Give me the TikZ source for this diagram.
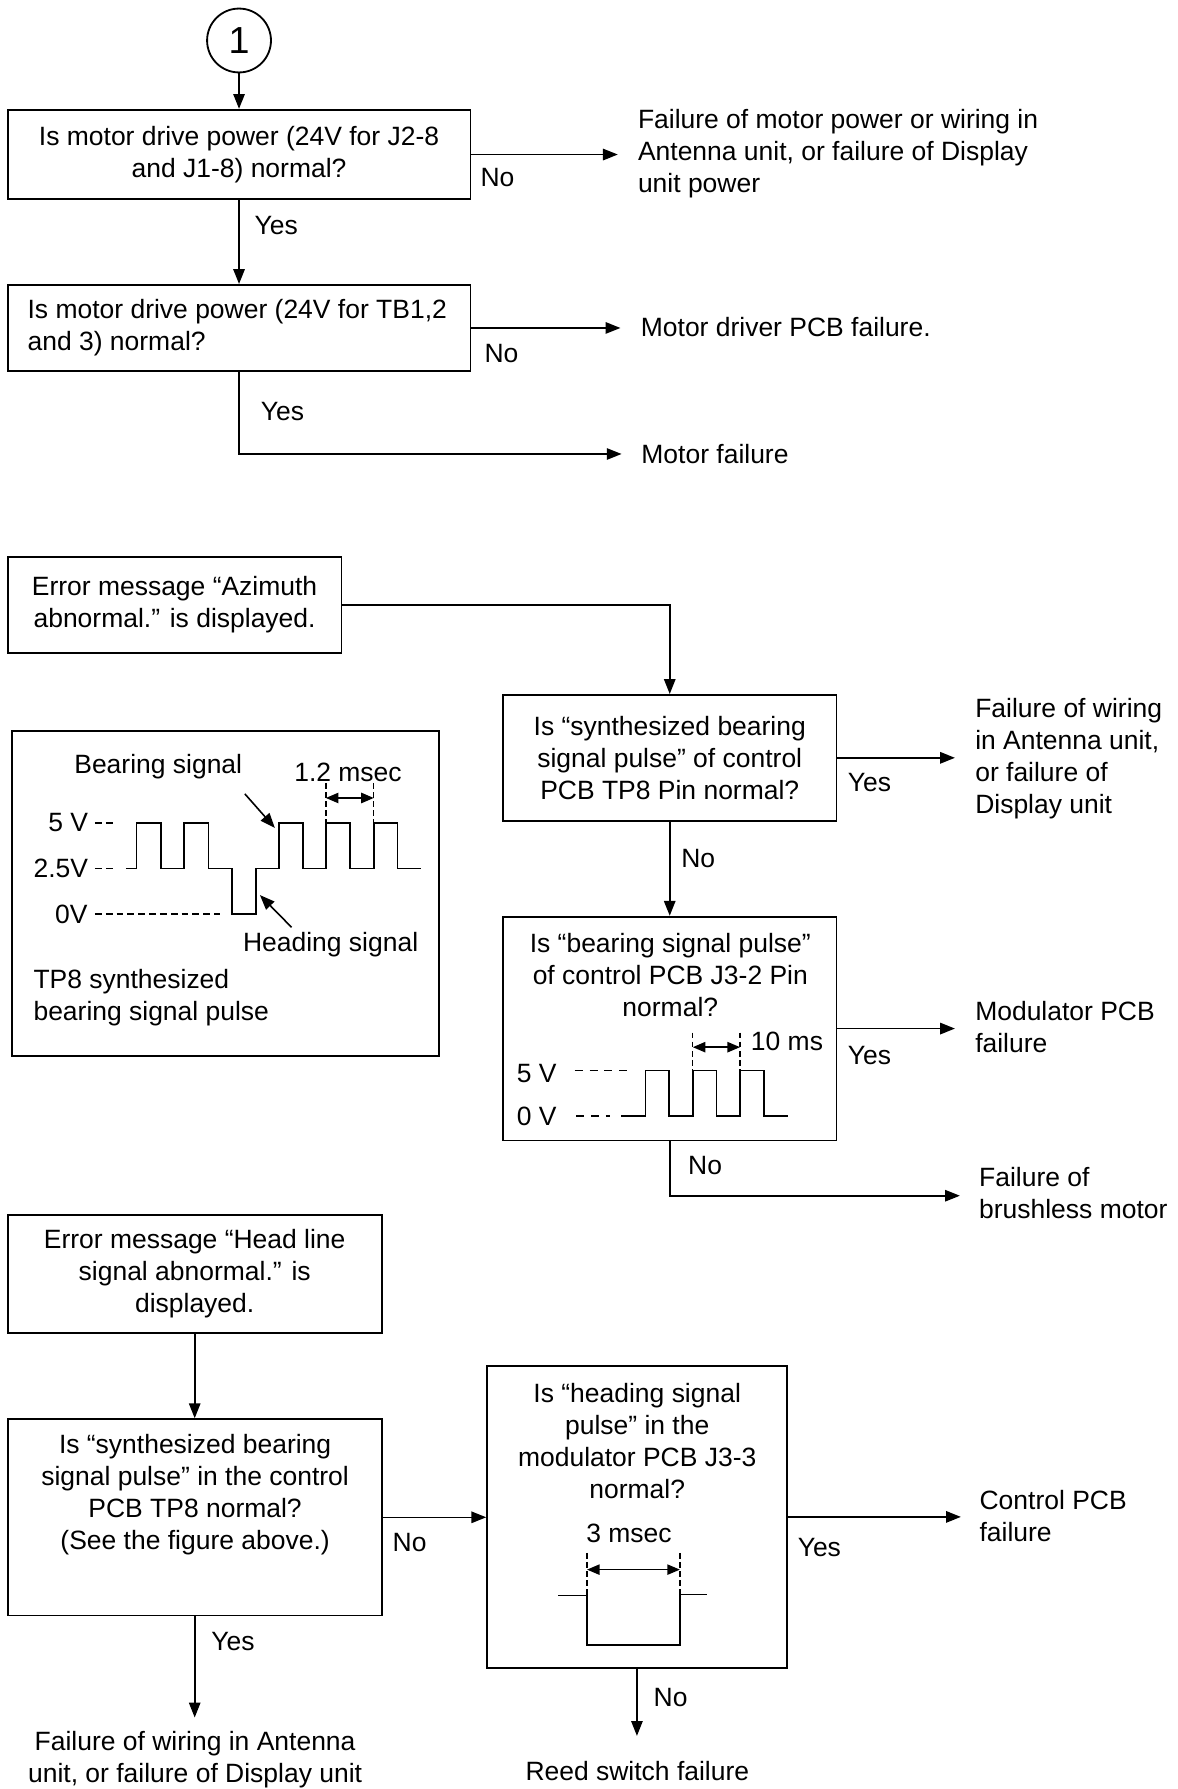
\documentclass[tikz,border=0pt]{standalone}
\usepackage{fontspec}
\setmainfont{Liberation Sans}
\usetikzlibrary{arrows.meta}
\newcommand{\fsz}{\fontsize{23.2}{28}\selectfont}
\begin{document}
\begin{tikzpicture}[x=1pt,y=-1pt,
  box/.style={draw, line width=1.6pt, inner sep=0pt},
  txt/.style={inner sep=0pt, font=\fsz, align=center},
  ltxt/.style={inner sep=0pt, font=\fsz, align=left},
  arr/.style={line width=1.4pt, -{Triangle[length=13pt,width=10pt]}},
  ln/.style={line width=1.4pt},
  wave/.style={line width=1.5pt},
  dsh/.style={line width=1.2pt, dash pattern=on 6pt off 3.5pt},
  wdsh/.style={line width=1.2pt, dash pattern=on 7pt off 6pt},
  vdsh/.style={line width=1.2pt, dash pattern=on 5pt off 3pt},
  dbl/.style={line width=1.4pt, {Triangle[length=11pt,width=9pt]}-{Triangle[length=11pt,width=9pt]}},
  lbl/.style={inner sep=0pt, font=\fsz, anchor=west},
]
\useasboundingbox (0,0) rectangle (1032,1568);

% ---------------- top section ----------------
\node[draw, circle, line width=1.6pt, minimum size=56pt, inner sep=0pt,
      font=\fontsize{33}{36}\selectfont] (c1) at (209.5,35.5) {1};
\node[box, txt, minimum width=405.6pt, minimum height=78.5pt] (b1) at (209.5,135.45)
  {Is motor drive power (24V for J2-8\\and J1-8) normal?};
\node[box, minimum width=405.6pt, minimum height=75.5pt] (b2) at (209.5,287.45) {};
\node[ltxt, anchor=west] (t2) at (24,287.5) {Is motor drive power (24V for TB1,2\\and 3) normal?};

\node[ltxt, anchor=west] (r1) at (559,134.3) {Failure of motor power or wiring in\\Antenna unit, or failure of Display\\unit power};
\node[ltxt, anchor=west] (r2) at (561.5,287) {Motor driver PCB failure.};
\node[ltxt, anchor=west] (r3) at (562,398.3) {Motor failure};
\coordinate (e1) at (541.5,135.8);
\coordinate (e2) at (543.8,287.6);
\coordinate (e3) at (544.8,397.9);

\draw[arr] (c1) -- (b1);
\draw[arr] (b1) -- (b2);
\draw[arr] (b1.east) -- (b1.east -| e1);
\draw[arr] (b2.east) -- (b2.east -| e2);
\draw[arr] (b2.south) |- (e3);

\node[lbl] (n1) at (421,156) {No};
\node[lbl] (y1) at (223,197.8) {Yes};
\node[lbl] (n2) at (424.5,310) {No};
\node[lbl] (y2) at (228.5,360.4) {Yes};

% ---------------- middle section ----------------
\node[box, txt, minimum width=292.7pt, minimum height=83.9pt] (az) at (153,530.35)
  {Error message “Azimuth\\abnormal.” is displayed.};
\node[box, txt, minimum width=292.4pt, minimum height=110.3pt] (s1) at (587,664.2)
  {Is “synthesized bearing\\signal pulse” of control\\PCB TP8 Pin normal?};
\node[box, minimum width=292.4pt, minimum height=196.1pt] (s2) at (587,901.5) {};
\node[txt] (t5) at (587.5,854.8) {Is “bearing signal pulse”\\of control PCB J3-2 Pin\\normal?};

\node[ltxt, anchor=west] (r4) at (854.6,664.7) {Failure of wiring\\in Antenna unit,\\or failure of\\Display unit};
\node[ltxt, anchor=west] (r5) at (854.6,900.5) {Modulator PCB\\failure};
\node[ltxt, anchor=west] (r6) at (858,1046) {Failure of\\brushless motor};
\coordinate (e4) at (837,664.5);
\coordinate (e5) at (837,901.7);
\coordinate (e6) at (841.3,1048);

\draw[arr] (az.east) -| (s1.north);
\draw[arr] (s1) -- (s2);
\draw[arr] (s1.east) -- (s1.east -| e4);
\draw[arr] (s2.east) -- (s2.east -| e5);
\draw[arr] (s2.south) |- (e6);

\node[lbl] (y3) at (743,686) {Yes};
\node[lbl] (n3) at (597,752.7) {No};
\node[lbl] (y4) at (743,924.8) {Yes};
\node[lbl] (n4) at (603,1021.8) {No};

% waveform inside s2
\node[txt, anchor=east] (v5a) at (488,940.9) {5 V};
\node[txt, anchor=east] (v0a) at (488,978.2) {0 V};
\draw[wdsh] (503.7,938.2) -- (555,938.2);
\draw[wdsh] (505,978.2) -- (535,978.2);
\draw[wave] (544.6,978.2) -- (565.8,978.2) -- (565.8,938.2) -- (586.6,938.2) -- (586.6,978.2)
  -- (607.2,978.2) -- (607.2,938.2) -- (628,938.2) -- (628,978.2) -- (648.6,978.2)
  -- (648.6,938.2) -- (669.4,938.2) -- (669.4,978.2) -- (690.6,978.2);
\draw[vdsh] (607.2,905) -- (607.2,938.2);
\draw[vdsh] (648.6,905) -- (648.6,938.2);
\draw[dbl] (607.2,917.8) -- (648.6,917.8);
\node[lbl] (ms10) at (658,912.5) {10 ms};

% TP8 figure box
\node[box, minimum width=374.7pt, minimum height=285.3pt] (tp) at (197.55,783.05) {};
\node[txt] (bs) at (138.7,671.6) {Bearing signal};
\node[txt] (m12) at (305,676.9) {1.2 msec};
\node[txt, anchor=east] (l5) at (77.4,721.3) {5 V};
\node[txt, anchor=east] (l25) at (77.4,761.3) {2.5V};
\node[txt, anchor=east] (l0) at (77,801) {0V};
\draw[dsh] (83.2,721.3) -- (100.7,721.3);
\draw[dsh] (83.2,761.3) -- (100.7,761.3);
\draw[dsh] (83.2,801) -- (192.7,801);
\draw[wave] (110.4,761.3) -- (119.7,761.3) -- (119.7,721.3) -- (141.3,721.3) -- (141.3,761.3)
  -- (161.5,761.3) -- (161.5,721.3) -- (182.8,721.3) -- (182.8,761.3) -- (203.5,761.3)
  -- (203.5,801) -- (224.3,801) -- (224.3,761.3) -- (244.7,761.3) -- (244.7,721.3)
  -- (265.7,721.3) -- (265.7,761.3) -- (285.6,761.3) -- (285.6,721.3) -- (306.6,721.3)
  -- (306.6,761.3) -- (327.6,761.3) -- (327.6,721.3) -- (348.4,721.3) -- (348.4,761.3)
  -- (369.4,761.3);
\draw[vdsh] (285.6,686.2) -- (285.6,721.3);
\draw[vdsh] (327.6,686.2) -- (327.6,721.3);
\draw[dbl] (285.6,699.4) -- (327.6,699.4);
\draw[arr] (214.6,695.8) -- (240.9,725.6);
\draw[arr] (255.5,812.7) -- (227.8,784.5);
\node[txt] (hs) at (289.8,827.9) {Heading signal};
\node[ltxt, anchor=west] (tp8) at (29.2,874.6) {TP8 synthesized\\bearing signal pulse};

% ---------------- bottom section ----------------
\node[box, txt, minimum width=327.9pt, minimum height=103pt] (h1) at (170.65,1116.6)
  {Error message “Head line\\signal abnormal.” is\\displayed.};
\node[box, minimum width=327.9pt, minimum height=172.1pt] (h2) at (170.65,1329.85) {};
\node[txt] (t8) at (171,1310.35) {Is “synthesized bearing\\signal pulse” in the control\\PCB TP8 normal?\\(See the figure above.)};
\node[box, minimum width=262.5pt, minimum height=265pt] (hd) at (558.25,1329.5) {};
\node[txt] (t9) at (558.5,1262.9) {Is “heading signal\\pulse” in the\\modulator PCB J3-3\\normal?};

\node[ltxt, anchor=west] (r7) at (858.4,1329) {Control PCB\\failure};
\node[txt] (rs) at (558.6,1552) {Reed switch failure};
\node[txt] (r8) at (171,1542.4) {Failure of wiring in Antenna\\unit, or failure of Display unit};
\coordinate (e7) at (842.2,1329.5);
\coordinate (e8) at (558.25,1521.4);
\coordinate (e9) at (170.65,1505.3);

\draw[arr] (h1) -- (h2);
\draw[arr] (h2.east) -- (h2.east -| hd.west);
\draw[arr] (hd.east) -- (hd.east -| e7);
\draw[arr] (hd.south) -- (e8);
\draw[arr] (h2.south) -- (e9);

\node[lbl] (n5) at (344,1352) {No};
\node[lbl] (y5) at (699,1356.4) {Yes};
\node[lbl] (n6) at (572.7,1487.8) {No};
\node[lbl] (y6) at (185,1438.9) {Yes};

% heading pulse figure
\node[txt] (m3) at (551.3,1344) {3 msec};
\draw[vdsh] (514.5,1361) -- (514.5,1398.5);
\draw[vdsh] (595.9,1361) -- (595.9,1397.5);
\draw[dbl] (514.5,1375.7) -- (595.9,1375.7);
\draw[wave] (489.5,1398.5) -- (514.5,1398.5) -- (514.5,1441.8) -- (596,1441.8) -- (596,1397.5) -- (619.3,1397.5);
\end{tikzpicture}
\end{document}
